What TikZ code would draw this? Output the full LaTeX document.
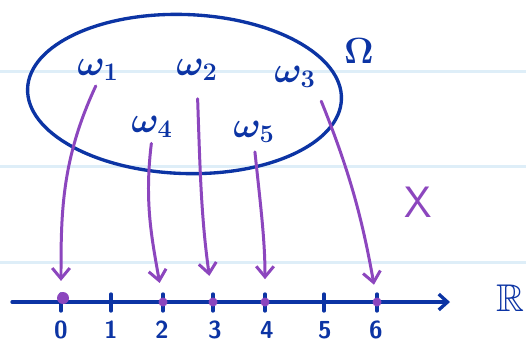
\documentclass[tikz,border=0pt]{standalone}
\usepackage{amssymb}
\usetikzlibrary{arrows.meta}
\definecolor{inkblue}{RGB}{12,52,164}
\definecolor{inkpurple}{RGB}{140,70,190}
\definecolor{ruleblue}{RGB}{222,238,248}
\begin{document}
\begin{tikzpicture}[>={Straight Barb[length=6pt,width=10pt]}, line join=round, line cap=round, font=\sffamily,
	ink/.style={draw=inkblue, line width=1.9pt},
	map/.style={->, draw=inkpurple, line width=1.7pt, shorten >=12pt},
	omega/.style={inner sep=0pt, text=inkblue, font=\fontsize{22}{24}\selectfont\boldmath},
	num/.style={inner sep=0pt, text=inkblue, font=\fontsize{14}{16}\selectfont\sffamily\bfseries}]
	% Trang vở
	\fill[white] (0,0) rectangle (10.52,-6.86);
	\useasboundingbox (0,0) rectangle (10.52,-6.86);
	\draw[ruleblue, line width=1.7pt] (0,-1.42) -- (10.52,-1.42);
	\draw[ruleblue, line width=1.7pt] (0,-3.32) -- (10.52,-3.32);
	\draw[ruleblue, line width=1.7pt] (0,-5.24) -- (10.52,-5.24);
	% Không gian mẫu
	\draw[ink, rotate around={-2:(3.69,-1.88)}] (3.69,-1.88) ellipse [x radius=3.14, y radius=1.59];
	\node[text=inkblue, font=\fontsize{22}{24}\selectfont\boldmath] (om) at (7.18,-1.02) {$\Omega$};
	\node[omega] (w1) at (1.96,-1.40) {$\omega_1$};
	\node[omega] (w2) at (3.94,-1.40) {$\omega_2$};
	\node[omega] (w3) at (5.90,-1.54) {$\omega_3$};
	\node[omega] (w4) at (3.04,-2.54) {$\omega_4$};
	\node[omega] (w5) at (5.08,-2.64) {$\omega_5$};
	% Trục số
	\coordinate (ax0) at (0.24,-6.04);
	\coordinate (ax1) at (9.00,-6.04);
	\draw[ink, ->, >={Straight Barb[length=5pt,width=9pt]}] (ax0) -- (ax1);
	\node[text=inkblue, font=\fontsize{22}{24}\selectfont] (R) at (10.20,-5.96) {$\mathbb{R}$};
	\coordinate (p0) at (1.22,-6.04);
	\coordinate (p1) at (2.22,-6.04);
	\coordinate (p2) at (3.26,-6.04);
	\coordinate (p3) at (4.26,-6.04);
	\coordinate (p4) at (5.30,-6.04);
	\coordinate (p5) at (6.48,-6.04);
	\coordinate (p6) at (7.54,-6.04);
	\draw[ink] ([yshift=0.16cm]p0) -- ([yshift=-0.18cm]p0);
	\draw[ink] ([yshift=0.16cm]p1) -- ([yshift=-0.18cm]p1);
	\draw[ink] ([yshift=0.16cm]p2) -- ([yshift=-0.18cm]p2);
	\draw[ink] ([yshift=0.16cm]p3) -- ([yshift=-0.18cm]p3);
	\draw[ink] ([yshift=0.16cm]p4) -- ([yshift=-0.18cm]p4);
	\draw[ink] ([yshift=0.16cm]p5) -- ([yshift=-0.18cm]p5);
	\draw[ink] ([yshift=0.16cm]p6) -- ([yshift=-0.18cm]p6);
	\node[num] (n0) at (1.22,-6.60) {0};
	\node[num] (n1) at (2.22,-6.60) {1};
	\node[num] (n2) at (3.24,-6.60) {2};
	\node[num] (n3) at (4.30,-6.60) {3};
	\node[num] (n4) at (5.34,-6.60) {4};
	\node[num] (n5) at (6.50,-6.60) {5};
	\node[num] (n6) at (7.52,-6.60) {6};
	\fill[inkpurple] ([xshift=0.04cm, yshift=0.08cm]p0) circle (0.12);
	\fill[inkpurple] (p2) circle (0.09);
	\fill[inkpurple] (p3) circle (0.09);
	\fill[inkpurple] (p4) circle (0.09);
	\fill[inkpurple] (p6) circle (0.09);
	% Biến ngẫu nhiên
	\node[text=inkpurple, font=\fontsize{25}{28}\selectfont\sffamily] (X) at (8.36,-4.04) {X};
	\draw[map, shorten <=3pt] (w1.south) to[out=245, in=90] (p0);
	\draw[map, shorten <=10pt, shorten >=15pt] (w2.south) to[out=272, in=98] (p3);
	\draw[map, shorten <=8pt, shorten >=10pt] (w3.south east) to[out=292, in=100] (p6);
	\draw[map, shorten <=3pt, shorten >=11pt] (w4.south) to[out=263, in=100] (p2);
	\draw[map, shorten <=5pt, shorten >=13pt] (w5.south) to[out=276, in=90] (p4);
\end{tikzpicture}
\end{document}
